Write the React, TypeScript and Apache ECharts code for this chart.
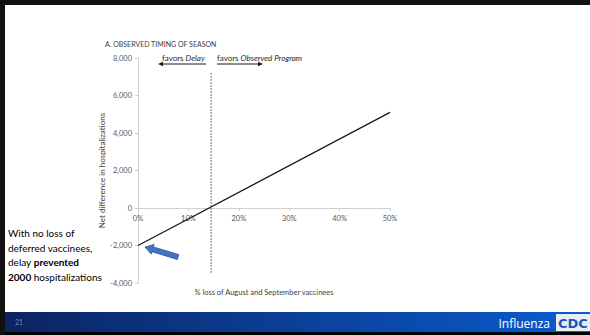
import React, { useEffect, useRef } from "react";
import * as echarts from "echarts";

const lossPct = [0, 50];
const netDiff = [-2000, 5100];
const breakEvenPct = 14.5;
const breakEvenSpan = [-3450, 7250];
const xTicks = [0, 10, 20, 30, 40, 50];
const yTicks = [-4000, -2000, 0, 2000, 4000, 6000, 8000];

const FONT = "Lato, 'Open Sans', sans-serif";

function arrowPoly(sx: number, sy: number, tx: number, ty: number, hl: number, hw: number, sw: number) {
  const dx = tx - sx, dy = ty - sy;
  const L = Math.hypot(dx, dy);
  const ux = dx / L, uy = dy / L;
  const nx = -uy, ny = ux;
  const bx = tx - hl * ux, by = ty - hl * uy;
  return [
    [sx + sw * nx, sy + sw * ny],
    [bx + sw * nx, by + sw * ny],
    [bx + hw * nx, by + hw * ny],
    [tx, ty],
    [bx - hw * nx, by - hw * ny],
    [bx - sw * nx, by - sw * ny],
    [sx - sw * nx, sy - sw * ny],
  ];
}

export default function App() {
  const ref = useRef<HTMLDivElement>(null);
  useEffect(() => {
    document.body.style.margin = "0";
    const chart = echarts.init(ref.current!, null, { renderer: "svg" });
    const lineData = lossPct.map((x, i) => [x, netDiff[i]]);
    const vData = breakEvenSpan.map((y) => [breakEvenPct, y]);
    chart.setOption({
      animation: false,
      backgroundColor: "#ffffff",
      title: {
        text: "A. OBSERVED TIMING OF SEASON",
        left: 100,
        top: 35,
        textStyle: { fontFamily: FONT, fontSize: 7, fontWeight: "normal", color: "#404040" },
      },
      grid: { left: 138, right: 200, top: 58, bottom: 52, containLabel: false, outerBoundsMode: "none" },
      xAxis: {
        type: "value",
        min: xTicks[0],
        max: xTicks[xTicks.length - 1],
        interval: 10,
        splitLine: { show: false },
        axisLine: { show: true, onZero: true, lineStyle: { color: "#d0d0d0", width: 1 } },
        axisTick: { show: true, length: 3, lineStyle: { color: "#d0d0d0" } },
        axisLabel: {
          formatter: (v: number) => `${v}%`,
          fontFamily: FONT,
          fontSize: 7.5,
          color: "#595959",
          margin: -69,
        },
      },
      yAxis: {
        type: "value",
        min: yTicks[0],
        max: yTicks[yTicks.length - 1],
        interval: 2000,
        splitLine: { show: false },
        axisLine: { show: true, onZero: false, lineStyle: { color: "#d0d0d0", width: 1 } },
        axisTick: { show: true, length: 3, lineStyle: { color: "#d0d0d0" } },
        axisLabel: {
          formatter: (v: number) => v.toLocaleString("en-US"),
          fontFamily: FONT,
          fontSize: 7.5,
          color: "#595959",
          margin: 6,
        },
        name: "Net difference in hospitalizations",
        nameLocation: "middle",
        nameGap: 28,
        nameTextStyle: { fontFamily: FONT, fontSize: 8, color: "#404040" },
      },
      series: [
        {
          type: "line",
          data: lineData,
          showSymbol: false,
          lineStyle: { color: "#1a1a1a", width: 1.3 },
        },
        {
          type: "line",
          data: vData,
          showSymbol: false,
          lineStyle: { color: "#404040", width: 1, type: [1.5, 1.5] },
        },
      ],
      graphic: [
        { type: "rect", id: "bTop", z: 100, shape: { x: 0, y: 0, width: 590, height: 5 }, style: { fill: "#111111" } },
        { type: "rect", id: "bBot", z: 100, shape: { x: 0, y: 332, width: 590, height: 3 }, style: { fill: "#000000" } },
        {
          type: "text",
          x: 264,
          y: 292,
          style: {
            text: "% loss of August and September vaccinees",
            fontFamily: FONT,
            fontSize: 7.5,
            fill: "#404040",
            align: "center",
            verticalAlign: "middle",
          },
        },
        {
          type: "rect",
          z: 50,
          shape: { x: 5, y: 312, width: 585, height: 20 },
          style: {
            fill: new echarts.graphic.LinearGradient(0, 0, 1, 0, [
              { offset: 0, color: "#0c2461" },
              { offset: 0.5, color: "#0b4099" },
              { offset: 1, color: "#0a5cd0" },
            ]),
          },
          silent: true,
        },
        {
          type: "text",
          z: 51,
          x: 15,
          y: 322,
          style: { text: "21", fontFamily: FONT, fontSize: 7, fill: "#6f86b8", verticalAlign: "middle" },
        },
        {
          type: "text",
          z: 51,
          x: 550,
          y: 323,
          style: {
            text: "Influenza",
            fontFamily: "'Open Sans', sans-serif",
            fontSize: 12,
            fill: "#ffffff",
            align: "right",
            verticalAlign: "middle",
          },
        },
        { type: "rect", z: 51, shape: { x: 556, y: 314, width: 34, height: 17 }, style: { fill: "#e8eef8" }, silent: true },
        {
          type: "text",
          z: 52,
          x: 558,
          y: 323,
          style: {
            text: "CDC",
            fontFamily: "'DejaVu Sans', sans-serif",
            fontWeight: "bold",
            fontSize: 13,
            fill: "#1a56b8",
            verticalAlign: "middle",
          },
        },
        {
          type: "text",
          x: 162,
          y: 58,
          style: {
            text: "{n|favors }{i|Delay}",
            verticalAlign: "middle",
            rich: {
              n: { fontFamily: FONT, fontSize: 8, fill: "#262626" },
              i: { fontFamily: FONT, fontSize: 8, fontStyle: "italic", fill: "#262626" },
            },
          },
        },
        {
          type: "text",
          x: 217,
          y: 58,
          style: {
            text: "{n|favors }{i|Observed Program}",
            verticalAlign: "middle",
            rich: {
              n: { fontFamily: FONT, fontSize: 8, fill: "#262626" },
              i: { fontFamily: FONT, fontSize: 8, fontStyle: "italic", fill: "#262626" },
            },
          },
        },
        { type: "line", shape: { x1: 206, y1: 64, x2: 162, y2: 64 }, style: { stroke: "#1a1a1a", lineWidth: 1 } },
        { type: "polygon", shape: { points: [[158, 64], [163, 61.8], [163, 66.2]] }, style: { fill: "#1a1a1a" } },
        { type: "line", shape: { x1: 217, y1: 64, x2: 259, y2: 64 }, style: { stroke: "#1a1a1a", lineWidth: 1 } },
        { type: "polygon", shape: { points: [[263, 64], [258, 61.8], [258, 66.2]] }, style: { fill: "#1a1a1a" } },
        {
          type: "text",
          x: 8,
          y: 226,
          style: {
            text:
              "{n|With no loss of}\n{n|deferred vaccinees,}\n{n|delay }{b|prevented}\n{b|2000}{n| hospitalizations}",
            lineHeight: 14.5,
            rich: {
              n: { fontFamily: FONT, fontSize: 10, fill: "#000", lineHeight: 14.5 },
              b: { fontFamily: FONT, fontSize: 10, fontWeight: "bold", fill: "#000", lineHeight: 14.5 },
            },
          },
        },
        {
          type: "polygon",
          shape: { points: arrowPoly(178, 257, 145, 247, 8, 5, 2.5) },
          style: { fill: "#4472c4", stroke: "#2f528f", lineWidth: 0.8 },
        },
      ],
    });
    return () => chart.dispose();
  }, []);
  return (
    <div style={{ position: "relative", width: 590, height: 335 }}>
      <div ref={ref} style={{ width: 590, height: 335 }} />
      <div style={{ position: "absolute", left: 0, top: 0, width: 5, height: 335, background: "#111111" }} />
    </div>
  );
}
